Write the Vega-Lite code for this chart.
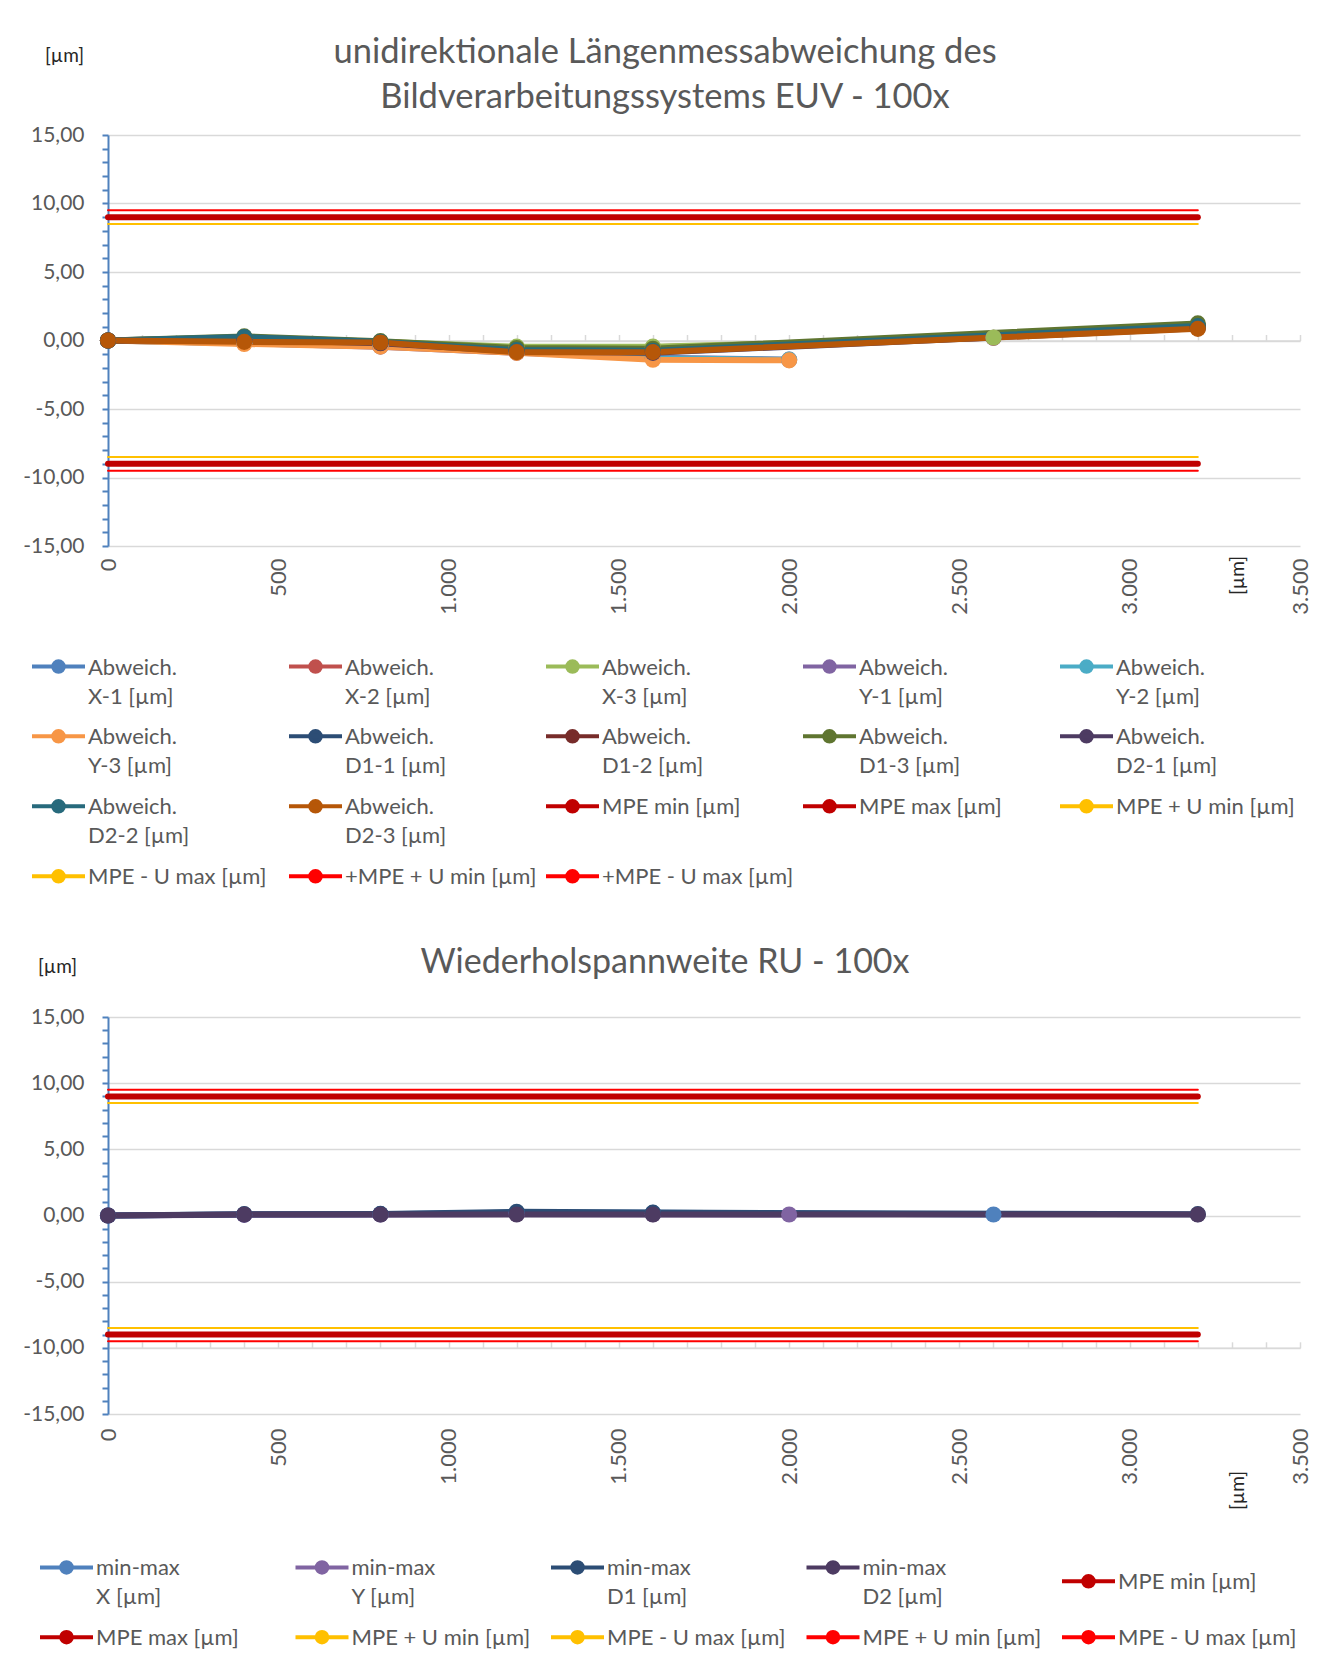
{
  "$schema": "https://vega.github.io/schema/vega-lite/v6.json",
  "background": "white",
  "padding": {"left": 22, "top": 34, "right": 10, "bottom": 10},
  "config": {
    "font": "Lato",
    "view": {"stroke": null},
    "style": {"guide-label": {"lineHeight": 29, "dy": 8}},
    "locale": {"number": {"decimal": ",", "thousands": ".", "grouping": [3], "currency": ["", " €"], "minus": "-"}}
  },
  "datasets": {
    "top": [
      {"s": "Abweich. X-1 [µm]", "x": 0, "y": 0}, {"s": "Abweich. X-1 [µm]", "x": 400, "y": 0.05}, {"s": "Abweich. X-1 [µm]", "x": 800, "y": -0.2}, {"s": "Abweich. X-1 [µm]", "x": 1200, "y": -0.6}, {"s": "Abweich. X-1 [µm]", "x": 1600, "y": -0.55}, {"s": "Abweich. X-1 [µm]", "x": 2600, "y": 0.2},
      {"s": "Abweich. X-2 [µm]", "x": 0, "y": 0}, {"s": "Abweich. X-2 [µm]", "x": 400, "y": 0.1}, {"s": "Abweich. X-2 [µm]", "x": 800, "y": -0.15}, {"s": "Abweich. X-2 [µm]", "x": 1200, "y": -0.55}, {"s": "Abweich. X-2 [µm]", "x": 1600, "y": -0.5}, {"s": "Abweich. X-2 [µm]", "x": 2600, "y": 0.2},
      {"s": "Abweich. X-3 [µm]", "x": 0, "y": 0}, {"s": "Abweich. X-3 [µm]", "x": 400, "y": 0.15}, {"s": "Abweich. X-3 [µm]", "x": 800, "y": -0.1}, {"s": "Abweich. X-3 [µm]", "x": 1200, "y": -0.45}, {"s": "Abweich. X-3 [µm]", "x": 1600, "y": -0.45}, {"s": "Abweich. X-3 [µm]", "x": 2600, "y": 0.22},
      {"s": "Abweich. Y-1 [µm]", "x": 0, "y": 0}, {"s": "Abweich. Y-1 [µm]", "x": 400, "y": -0.2}, {"s": "Abweich. Y-1 [µm]", "x": 800, "y": -0.45}, {"s": "Abweich. Y-1 [µm]", "x": 1200, "y": -0.9}, {"s": "Abweich. Y-1 [µm]", "x": 1600, "y": -1.25}, {"s": "Abweich. Y-1 [µm]", "x": 2000, "y": -1.4},
      {"s": "Abweich. Y-2 [µm]", "x": 0, "y": 0}, {"s": "Abweich. Y-2 [µm]", "x": 400, "y": -0.2}, {"s": "Abweich. Y-2 [µm]", "x": 800, "y": -0.4}, {"s": "Abweich. Y-2 [µm]", "x": 1200, "y": -0.85}, {"s": "Abweich. Y-2 [µm]", "x": 1600, "y": -1.3}, {"s": "Abweich. Y-2 [µm]", "x": 2000, "y": -1.4},
      {"s": "Abweich. Y-3 [µm]", "x": 0, "y": 0}, {"s": "Abweich. Y-3 [µm]", "x": 400, "y": -0.25}, {"s": "Abweich. Y-3 [µm]", "x": 800, "y": -0.45}, {"s": "Abweich. Y-3 [µm]", "x": 1200, "y": -0.9}, {"s": "Abweich. Y-3 [µm]", "x": 1600, "y": -1.4}, {"s": "Abweich. Y-3 [µm]", "x": 2000, "y": -1.45},
      {"s": "Abweich. D1-1 [µm]", "x": 0, "y": 0}, {"s": "Abweich. D1-1 [µm]", "x": 400, "y": 0.1}, {"s": "Abweich. D1-1 [µm]", "x": 800, "y": -0.15}, {"s": "Abweich. D1-1 [µm]", "x": 1200, "y": -0.75}, {"s": "Abweich. D1-1 [µm]", "x": 1600, "y": -0.8}, {"s": "Abweich. D1-1 [µm]", "x": 3200, "y": 1.0},
      {"s": "Abweich. D1-2 [µm]", "x": 0, "y": 0}, {"s": "Abweich. D1-2 [µm]", "x": 400, "y": 0.2}, {"s": "Abweich. D1-2 [µm]", "x": 800, "y": -0.1}, {"s": "Abweich. D1-2 [µm]", "x": 1200, "y": -0.65}, {"s": "Abweich. D1-2 [µm]", "x": 1600, "y": -0.7}, {"s": "Abweich. D1-2 [µm]", "x": 3200, "y": 1.1},
      {"s": "Abweich. D1-3 [µm]", "x": 0, "y": 0}, {"s": "Abweich. D1-3 [µm]", "x": 400, "y": 0.3}, {"s": "Abweich. D1-3 [µm]", "x": 800, "y": -0.05}, {"s": "Abweich. D1-3 [µm]", "x": 1200, "y": -0.55}, {"s": "Abweich. D1-3 [µm]", "x": 1600, "y": -0.6}, {"s": "Abweich. D1-3 [µm]", "x": 3200, "y": 1.25},
      {"s": "Abweich. D2-1 [µm]", "x": 0, "y": 0}, {"s": "Abweich. D2-1 [µm]", "x": 400, "y": 0.05}, {"s": "Abweich. D2-1 [µm]", "x": 800, "y": -0.2}, {"s": "Abweich. D2-1 [µm]", "x": 1200, "y": -0.8}, {"s": "Abweich. D2-1 [µm]", "x": 1600, "y": -0.9}, {"s": "Abweich. D2-1 [µm]", "x": 3200, "y": 0.9},
      {"s": "Abweich. D2-2 [µm]", "x": 0, "y": 0}, {"s": "Abweich. D2-2 [µm]", "x": 400, "y": 0.25}, {"s": "Abweich. D2-2 [µm]", "x": 800, "y": -0.1}, {"s": "Abweich. D2-2 [µm]", "x": 1200, "y": -0.7}, {"s": "Abweich. D2-2 [µm]", "x": 1600, "y": -0.75}, {"s": "Abweich. D2-2 [µm]", "x": 3200, "y": 1.05},
      {"s": "Abweich. D2-3 [µm]", "x": 0, "y": 0}, {"s": "Abweich. D2-3 [µm]", "x": 400, "y": -0.1}, {"s": "Abweich. D2-3 [µm]", "x": 800, "y": -0.15}, {"s": "Abweich. D2-3 [µm]", "x": 1200, "y": -0.85}, {"s": "Abweich. D2-3 [µm]", "x": 1600, "y": -0.85}, {"s": "Abweich. D2-3 [µm]", "x": 3200, "y": 0.85},
      {"s": "MPE min [µm]", "x": 0, "y": -9}, {"s": "MPE min [µm]", "x": 3200, "y": -9},
      {"s": "MPE max [µm]", "x": 0, "y": 9}, {"s": "MPE max [µm]", "x": 3200, "y": 9},
      {"s": "MPE + U min [µm]", "x": 0, "y": -8.5}, {"s": "MPE + U min [µm]", "x": 3200, "y": -8.5},
      {"s": "MPE - U max [µm]", "x": 0, "y": 8.5}, {"s": "MPE - U max [µm]", "x": 3200, "y": 8.5},
      {"s": "+MPE + U min [µm]", "x": 0, "y": -9.5}, {"s": "+MPE + U min [µm]", "x": 3200, "y": -9.5},
      {"s": "+MPE - U max [µm]", "x": 0, "y": 9.5}, {"s": "+MPE - U max [µm]", "x": 3200, "y": 9.5}
    ],
    "bot": [
      {"s": "min-max X [µm]", "x": 0, "y": 0}, {"s": "min-max X [µm]", "x": 400, "y": 0.08}, {"s": "min-max X [µm]", "x": 800, "y": 0.1}, {"s": "min-max X [µm]", "x": 1200, "y": 0.22}, {"s": "min-max X [µm]", "x": 1600, "y": 0.2}, {"s": "min-max X [µm]", "x": 2600, "y": 0.08},
      {"s": "min-max Y [µm]", "x": 0, "y": 0}, {"s": "min-max Y [µm]", "x": 400, "y": 0.05}, {"s": "min-max Y [µm]", "x": 800, "y": 0.08}, {"s": "min-max Y [µm]", "x": 1200, "y": 0.12}, {"s": "min-max Y [µm]", "x": 1600, "y": 0.1}, {"s": "min-max Y [µm]", "x": 2000, "y": 0.08},
      {"s": "min-max D1 [µm]", "x": 0, "y": 0}, {"s": "min-max D1 [µm]", "x": 400, "y": 0.1}, {"s": "min-max D1 [µm]", "x": 800, "y": 0.12}, {"s": "min-max D1 [µm]", "x": 1200, "y": 0.28}, {"s": "min-max D1 [µm]", "x": 1600, "y": 0.22}, {"s": "min-max D1 [µm]", "x": 3200, "y": 0.1},
      {"s": "min-max D2 [µm]", "x": 0, "y": 0}, {"s": "min-max D2 [µm]", "x": 400, "y": 0.08}, {"s": "min-max D2 [µm]", "x": 800, "y": 0.08}, {"s": "min-max D2 [µm]", "x": 1200, "y": 0.08}, {"s": "min-max D2 [µm]", "x": 1600, "y": 0.08}, {"s": "min-max D2 [µm]", "x": 3200, "y": 0.08},
      {"s": "MPE min [µm]", "x": 0, "y": -9}, {"s": "MPE min [µm]", "x": 3200, "y": -9},
      {"s": "MPE max [µm]", "x": 0, "y": 9}, {"s": "MPE max [µm]", "x": 3200, "y": 9},
      {"s": "MPE + U min [µm]", "x": 0, "y": -8.5}, {"s": "MPE + U min [µm]", "x": 3200, "y": -8.5},
      {"s": "MPE - U max [µm]", "x": 0, "y": 8.5}, {"s": "MPE - U max [µm]", "x": 3200, "y": 8.5},
      {"s": "MPE + U min [µm] ", "x": 0, "y": -9.5}, {"s": "MPE + U min [µm] ", "x": 3200, "y": -9.5},
      {"s": "MPE - U max [µm] ", "x": 0, "y": 9.5}, {"s": "MPE - U max [µm] ", "x": 3200, "y": 9.5}
    ]
  },
  "spacing": 471,
  "bounds": "flush",
  "resolve": {"scale": {"color": "independent"}, "legend": {"color": "independent"}},
  "vconcat": [
    {
      "name": "top",
      "width": 1192,
      "height": 411,
      "data": {"name": "top"},
      "title": {"text": ["unidirektionale Längenmessabweichung des", "Bildverarbeitungssystems EUV - 100x"], "anchor": "middle", "frame": "group", "font": "Lato", "fontSize": 34.5, "fontWeight": "normal", "color": "#595959", "lineHeight": 45, "baseline": "bottom", "offset": -103, "dx": -39},
      "resolve": {"axis": {"x": "independent", "y": "independent"}},
      "layer": [
        {
          "mark": {"type": "line", "strokeCap": "round", "strokeJoin": "round"},
          "encoding": {
            "x": {"field": "x", "type": "quantitative", "scale": {"domain": [0, 3500], "nice": false, "zero": false},
              "axis": {"orient": "bottom", "values": [0, 500, 1000, 1500, 2000, 2500, 3000, 3500], "format": ",d", "labelAngle": 270, "labelAlign": "right", "labelBaseline": "middle", "labelOffset": -8, "labelFont": "Lato", "labelFontSize": 22, "labelColor": "#595959", "labelPadding": 12, "ticks": false, "domain": false, "grid": false,
                "title": "[µm]", "titleAngle": 270, "titleX": 1129, "titleY": 29, "titleAlign": "center", "titleBaseline": "middle", "titleFont": "Lato", "titleFontSize": 19, "titleFontWeight": "normal", "titleColor": "#262626"}},
            "y": {"field": "y", "type": "quantitative", "scale": {"domain": [-15, 15], "nice": false},
              "axis": {"orient": "left", "tickCount": 30, "format": ".2f", "labelExpr": "datum.value % 5 === 0 ? datum.label : ''", "labelOverlap": false, "labelOffset": -8, "labelFont": "Lato", "labelFontSize": 21, "labelColor": "#595959", "labelPadding": 18,
                "domainColor": "#4F81BD", "domainWidth": 2, "tickColor": "#4F81BD", "tickWidth": 2, "tickSize": 6, "encode": {"ticks": {"x": {"value": 6}}},
                "grid": true, "gridColor": "#D9D9D9", "gridWidth": 1.5, "gridOpacity": {"condition": {"test": "datum.value % 5 !== 0", "value": 0}, "value": 1},
                "title": "[µm]", "titleAngle": 0, "titleX": -44, "titleY": -80, "titleAlign": "center", "titleBaseline": "middle", "titleFont": "Lato", "titleFontSize": 19, "titleFontWeight": "normal", "titleColor": "#262626"}},
            "strokeWidth": {"condition": {"test": "indexof(datum.s, ' U ') >= 0", "value": 2}, "value": 6},
            "color": {"field": "s", "type": "nominal",
              "scale": {"domain": ["Abweich. X-1 [µm]", "Abweich. X-2 [µm]", "Abweich. X-3 [µm]", "Abweich. Y-1 [µm]", "Abweich. Y-2 [µm]", "Abweich. Y-3 [µm]", "Abweich. D1-1 [µm]", "Abweich. D1-2 [µm]", "Abweich. D1-3 [µm]", "Abweich. D2-1 [µm]", "Abweich. D2-2 [µm]", "Abweich. D2-3 [µm]", "MPE min [µm]", "MPE max [µm]", "MPE + U min [µm]", "MPE - U max [µm]", "+MPE + U min [µm]", "+MPE - U max [µm]"],
                "range": ["#4F81BD", "#C0504D", "#9BBB59", "#8064A2", "#4BACC6", "#F79646", "#2C4D75", "#772C2A", "#5F7530", "#4D3B62", "#276A7C", "#B65708", "#C00000", "#C00000", "#FFC000", "#FFC000", "#FF0000", "#FF0000"]},
              "legend": {"orient": "none", "direction": "horizontal", "legendX": -78, "legendY": 502.8, "columns": 5, "gridAlign": "all", "columnPadding": 1, "rowPadding": -5.4, "padding": 0, "title": null,
                "labelFont": "Lato", "labelFontSize": 22, "labelColor": "#595959", "labelLimit": 400, "labelOffset": 1, "labelBaseline": "alphabetic",
                "symbolSize": 2809, "symbolType": "M-1,0L1,0M-0.2,0A0.2,0.2,0,1,1,0.2,0A0.2,0.2,0,1,1,-0.2,0Z", "symbolStrokeWidth": 4, "symbolOpacity": 1,
                "labelExpr": "indexof(datum.label, 'Abweich. ') === 0 ? ['Abweich.', substring(datum.label, 9)] : datum.label"}}
          }
        },
        {
          "transform": [{"filter": "indexof(datum.s, 'MPE') < 0"}],
          "mark": {"type": "point", "filled": true, "size": 260, "opacity": 1},
          "encoding": {
            "x": {"field": "x", "type": "quantitative",
              "axis": {"orient": "top", "offset": -205.5, "tickCount": 35, "labels": false, "grid": false, "domain": true, "domainColor": "#D9D9D9", "domainWidth": 1.5, "ticks": true, "tickColor": "#D9D9D9", "tickWidth": 1.5, "tickSize": 6, "title": null, "encode": {"ticks": {"y": {"value": 6}}}}},
            "y": {"field": "y", "type": "quantitative", "axis": null},
            "color": {"field": "s", "type": "nominal", "legend": null}
          }
        }
      ]
    },
    {
      "name": "bot",
      "width": 1192,
      "height": 397,
      "data": {"name": "bot"},
      "title": {"text": "Wiederholspannweite RU - 100x", "anchor": "middle", "frame": "group", "font": "Lato", "fontSize": 34, "fontWeight": "normal", "color": "#595959", "baseline": "bottom", "offset": -57, "dx": -39},
      "resolve": {"axis": {"x": "independent", "y": "independent"}},
      "layer": [
        {
          "mark": {"type": "line", "strokeCap": "round", "strokeJoin": "round"},
          "encoding": {
            "x": {"field": "x", "type": "quantitative", "scale": {"domain": [0, 3500], "nice": false, "zero": false},
              "axis": {"orient": "bottom", "values": [0, 500, 1000, 1500, 2000, 2500, 3000, 3500], "format": ",d", "labelAngle": 270, "labelAlign": "right", "labelBaseline": "middle", "labelOffset": -8, "labelFont": "Lato", "labelFontSize": 22, "labelColor": "#595959", "labelPadding": 14, "ticks": false, "domain": false, "grid": false,
                "title": "[µm]", "titleAngle": 270, "titleX": 1129, "titleY": 76, "titleAlign": "center", "titleBaseline": "middle", "titleFont": "Lato", "titleFontSize": 19, "titleFontWeight": "normal", "titleColor": "#262626"}},
            "y": {"field": "y", "type": "quantitative", "scale": {"domain": [-15, 15], "nice": false},
              "axis": {"orient": "left", "tickCount": 30, "format": ".2f", "labelExpr": "datum.value % 5 === 0 ? datum.label : ''", "labelOverlap": false, "labelOffset": -8, "labelFont": "Lato", "labelFontSize": 21, "labelColor": "#595959", "labelPadding": 18,
                "domainColor": "#4F81BD", "domainWidth": 2, "tickColor": "#4F81BD", "tickWidth": 2, "tickSize": 6, "encode": {"ticks": {"x": {"value": 6}}},
                "grid": true, "gridColor": "#D9D9D9", "gridWidth": 1.5, "gridOpacity": {"condition": {"test": "datum.value % 5 !== 0", "value": 0}, "value": 1},
                "title": "[µm]", "titleAngle": 0, "titleX": -51, "titleY": -50.7, "titleAlign": "center", "titleBaseline": "middle", "titleFont": "Lato", "titleFontSize": 19, "titleFontWeight": "normal", "titleColor": "#262626"}},
            "strokeWidth": {"condition": {"test": "indexof(datum.s, ' U ') >= 0", "value": 2}, "value": 6},
            "color": {"field": "s", "type": "nominal",
              "scale": {"domain": ["min-max X [µm]", "min-max Y [µm]", "min-max D1 [µm]", "min-max D2 [µm]", "MPE min [µm]", "MPE max [µm]", "MPE + U min [µm]", "MPE - U max [µm]", "MPE + U min [µm] ", "MPE - U max [µm] "],
                "range": ["#4F81BD", "#8064A2", "#2C4D75", "#4D3B62", "#C00000", "#C00000", "#FFC000", "#FFC000", "#FF0000", "#FF0000"]},
              "legend": {"orient": "none", "direction": "horizontal", "legendX": -70, "legendY": 521.7, "columns": 5, "gridAlign": "all", "columnPadding": 12.5, "rowPadding": -11, "padding": 0, "title": null,
                "labelFont": "Lato", "labelFontSize": 22, "labelColor": "#595959", "labelLimit": 400, "labelOffset": 1, "labelBaseline": "alphabetic",
                "symbolSize": 2809, "symbolType": "M-1,0L1,0M-0.2,0A0.2,0.2,0,1,1,0.2,0A0.2,0.2,0,1,1,-0.2,0Z", "symbolStrokeWidth": 4, "symbolOpacity": 1,
                "labelExpr": "indexof(datum.label, 'min-max ') === 0 ? ['min-max', substring(datum.label, 8)] : datum.label"}}
          }
        },
        {
          "transform": [{"filter": "indexof(datum.s, 'MPE') < 0"}],
          "mark": {"type": "point", "filled": true, "size": 260, "opacity": 1},
          "encoding": {
            "x": {"field": "x", "type": "quantitative",
              "axis": {"orient": "top", "offset": -330.8, "tickCount": 35, "labels": false, "grid": false, "domain": true, "domainColor": "#D9D9D9", "domainWidth": 1.5, "ticks": true, "tickColor": "#D9D9D9", "tickWidth": 1.5, "tickSize": 6, "title": null, "encode": {"ticks": {"y": {"value": 6}}}}},
            "y": {"field": "y", "type": "quantitative", "axis": null},
            "color": {"field": "s", "type": "nominal", "legend": null}
          }
        }
      ]
    }
  ]
}
